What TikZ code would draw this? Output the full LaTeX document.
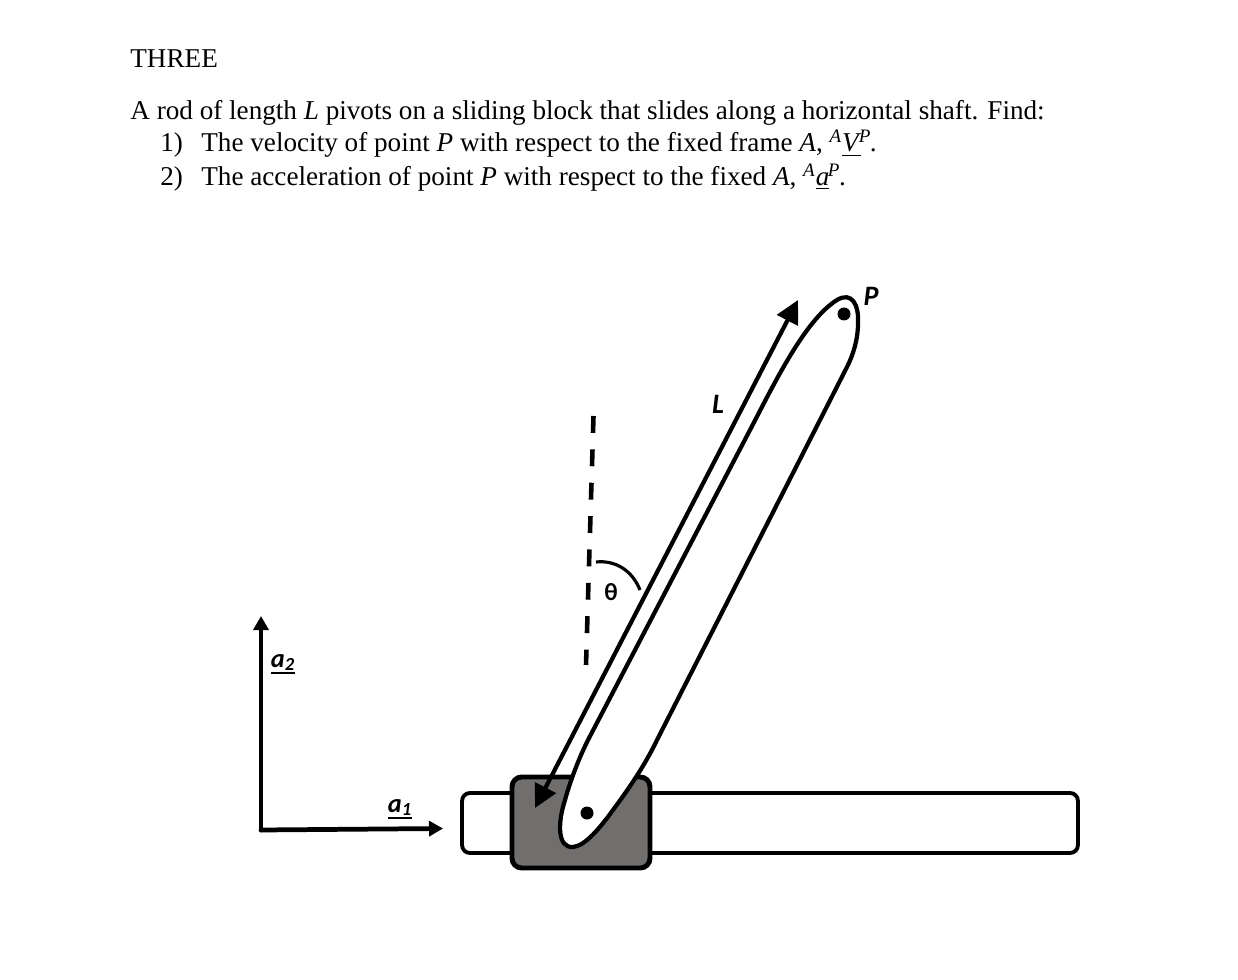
\documentclass[tikz,border=0pt]{standalone}
\usepackage{fontspec}
\setmainfont{Liberation Serif}
\newfontfamily\labelfont{Carlito}
\usetikzlibrary{arrows.meta}
\usetikzlibrary{positioning}
\definecolor{block gray}{HTML}{716E6E}
\newcommand{\axisname}[1]{\vtop{\hbox{\textit{a}\textsubscript{#1}}\kern0.7pt\hrule height 1pt}}
\tikzstyle{textline} = [anchor=base west, inner sep=0pt, font=\fontsize{15.46pt}{18pt}\selectfont]
\tikzstyle{shaft} = [rectangle, rounded corners=4.5pt, minimum width=12.32cm, minimum height=1.2cm, draw=black, line width=2.2pt, fill=white]
\tikzstyle{block} = [rectangle, rounded corners=5.5pt, minimum width=2.76cm, minimum height=1.82cm, draw=black, line width=2.8pt, fill=block gray]
\tikzstyle{rod} = [draw=black, line width=2.4pt, fill=white]
\tikzstyle{pindot} = [circle, inner sep=0pt, minimum size=0.26cm, fill=black]
\tikzstyle{tag} = [black, inner sep=0pt, font=\labelfont\bfseries\itshape\fontsize{16pt}{18pt}\selectfont]
\tikzstyle{lengtharrow} = [line width=2.4pt, {Triangle[length=0.46cm,width=0.46cm]}-{Triangle[length=0.46cm,width=0.46cm]}]
\tikzstyle{axis} = [line width=2.7pt, line cap=round, -{Triangle[length=0.28cm,width=0.3cm]}]
\tikzstyle{refline} = [line width=2.6pt, dash pattern=on 9.6pt off 9.4pt]
\begin{document}
\begin{tikzpicture}[x=0.02cm, y=-0.02cm]
    \useasboundingbox (0,0) rectangle (1238,980);

    % problem text
    \node (title) [textline] at (130,68) {THREE};
    \node (intro) [textline, at={(title.base west)}, yshift=-1.04cm] {A rod of length \textit{L} pivots on a sliding block that slides along a horizontal shaft. Find:};
    \node (numA) [textline, at={(intro.base west)}, xshift=0.6cm, yshift=-0.64cm] {1)};
    \node (itemA) [textline, at={(numA.base west)}, xshift=0.82cm] {The velocity of point \textit{P} with respect to the fixed frame \textit{A}, \textsuperscript{\textit{A}}$\underline{\hbox{\textit{V}}}$\kern-1.5pt\textsuperscript{\textit{P}}\kern-0.8pt.};
    \node (numB) [textline, at={(numA.base west)}, yshift=-0.68cm] {2)};
    \node (itemB) [textline, at={(numB.base west)}, xshift=0.82cm] {The acceleration of point \textit{P} with respect to the fixed \textit{A}, \textsuperscript{\textit{A}}$\underline{\hbox{\textit{a}}}$\kern-0.8pt\textsuperscript{\textit{P}}\kern-0.8pt.};

    % frame
    \coordinate (origin) at (261,830);
    \coordinate (a1End) at (443,828.5);
    \coordinate (a2End) at (261,616);
    \draw [axis] (origin) -- (a1End);
    \draw [axis] (origin) -- (a2End);
    \node (a1) [tag, font=\labelfont\bfseries\itshape\fontsize{15pt}{17pt}\selectfont] at (400,809) {\axisname{1}};
    \node (a2) [tag, font=\labelfont\bfseries\itshape\fontsize{15pt}{17pt}\selectfont] at (283,664) {\axisname{2}};

    % shaft and sliding block
    \node (bar) [shaft] at (770,823) {};
    \node (slider) [block] at (581,822.5) {};

    % rod
    \draw [rod] (573,847) .. controls (558,848) and (557,825) .. (565,800)
        .. controls (570,782) and (578,760) .. (588,740) -- (750,430)
        .. controls (775,382) and (805,320) .. (837,300)
        .. controls (852,291) and (859,305) .. (858,323)
        .. controls (858,340) and (853,355) .. (847,367) -- (657,740)
        .. controls (645,765) and (630,787) .. (613,810)
        .. controls (600,828) and (585,846) .. (573,847) -- cycle;
    \node (pivot) [pindot] at (587,813) {};
    \node (tip) [pindot, minimum width=0.22cm, minimum height=0.26cm] at (844,314) {};

    % length of the rod
    \coordinate (lengthBot) at (535,808);
    \coordinate (lengthTop) at (798,300);
    \draw [lengtharrow] (lengthBot) -- (lengthTop);
    \node (lengthLabel) [tag] at (718,404) {L};
    \node (tipLabel) [tag] at (871,296) {P};

    % angle from the vertical
    \coordinate (refTop) at (593.5,416);
    \coordinate (refBot) at (586,665);
    \draw [refline] (refTop) -- (refBot);
    \coordinate (arcStart) at (596,562);
    \coordinate (arcEnd) at (640,590);
    \draw [line width=1.8pt] (arcStart) .. controls (615,560) and (632,570) .. (arcEnd);
    \node (thetaLabel) [black, inner sep=0pt, font=\labelfont\bfseries\fontsize{14pt}{16pt}\selectfont] at (611,592) {θ};
\end{tikzpicture}
\end{document}
